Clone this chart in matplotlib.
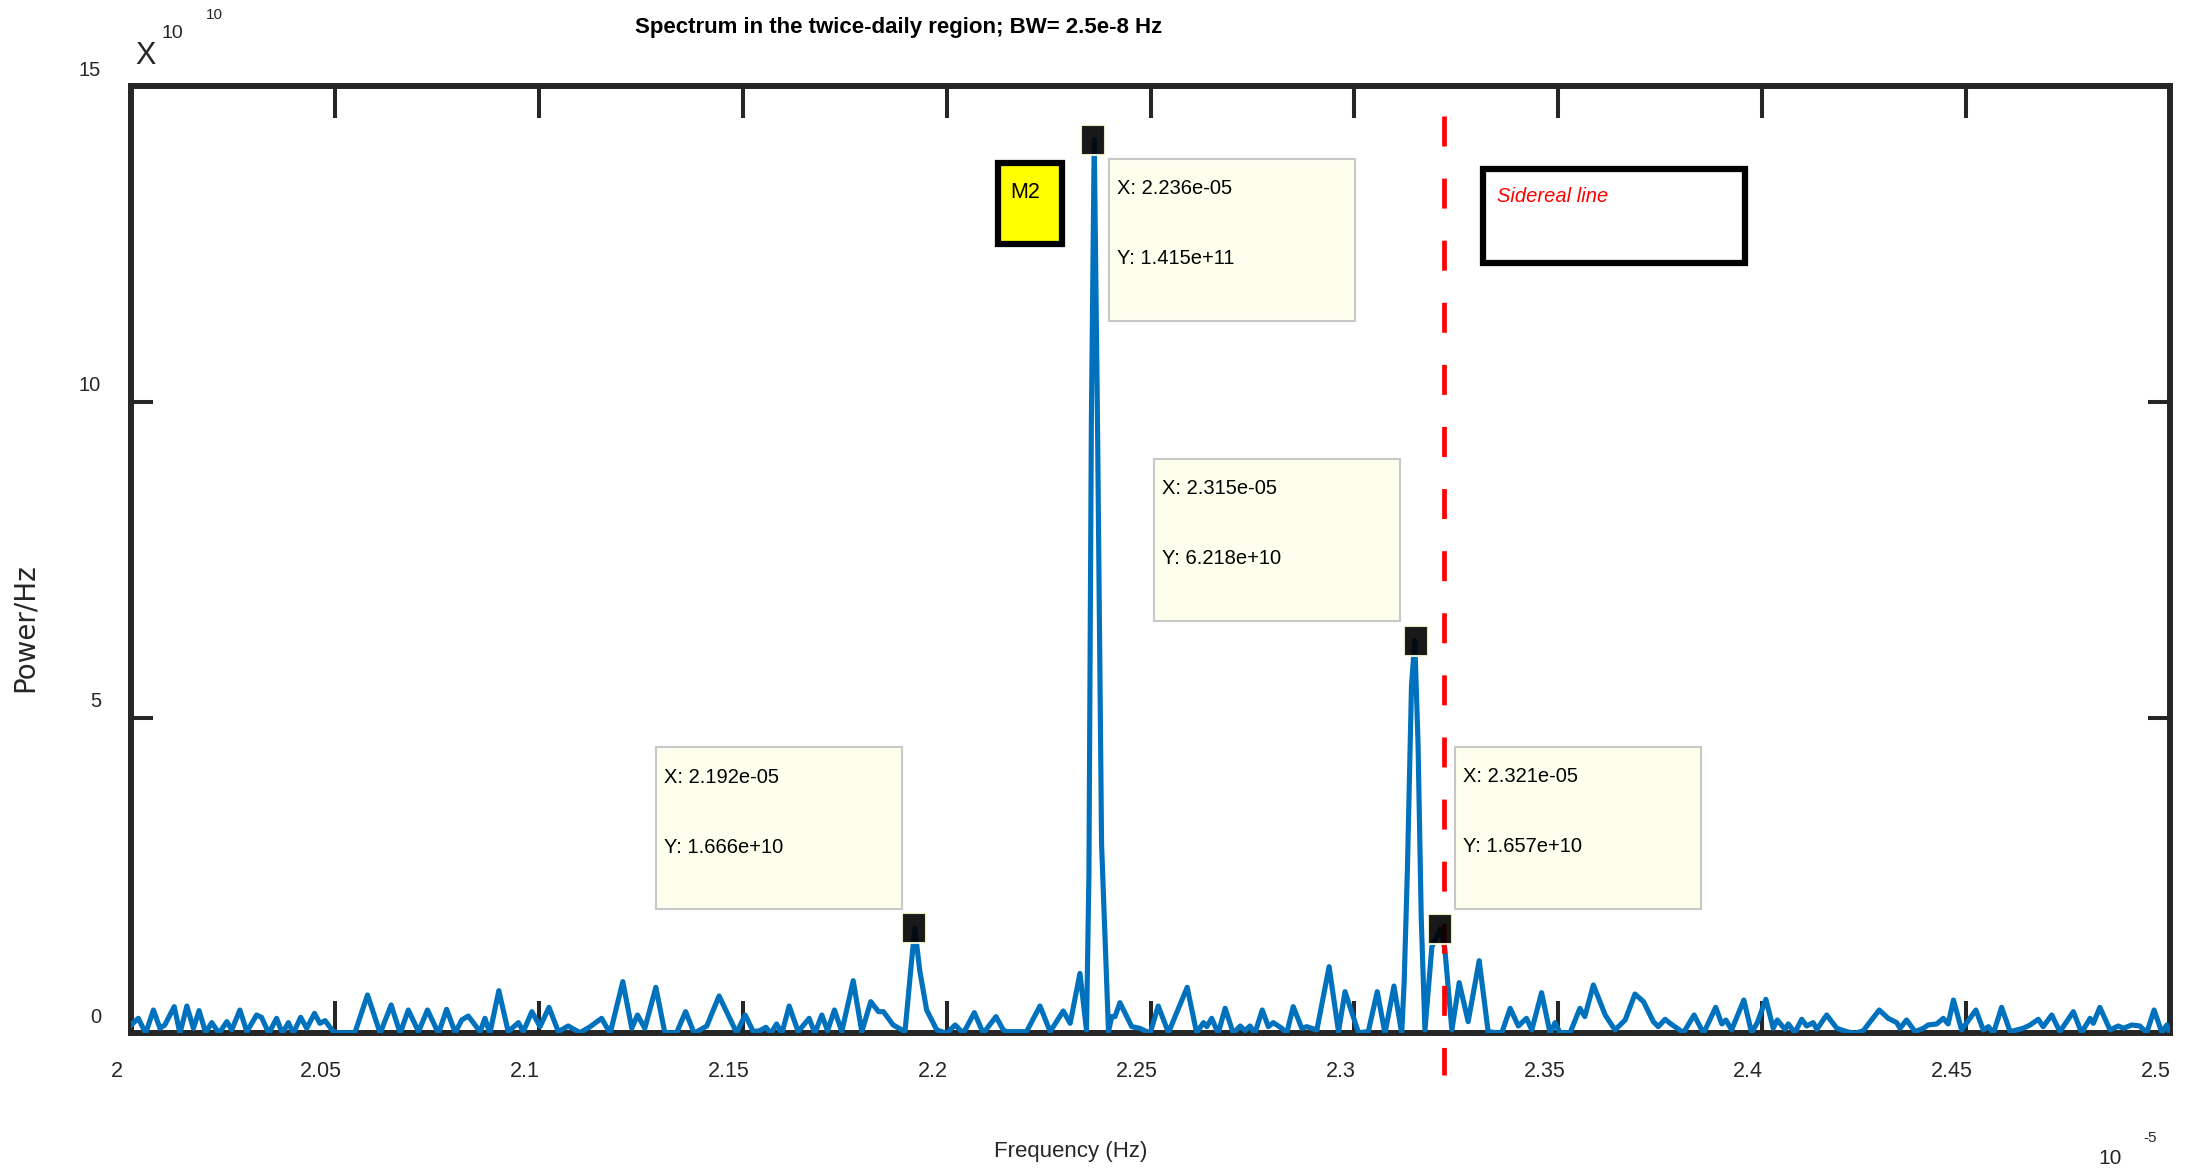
import matplotlib
matplotlib.use("Agg")
import matplotlib.pyplot as plt
from matplotlib.path import Path
from matplotlib.patches import Rectangle
from matplotlib.transforms import Affine2D, ScaledTranslation

plt.rcParams['font.family'] = ['Liberation Sans', 'DejaVu Sans']

# ---- data (frequency in 1e-5 Hz, power in 1e10)
freq_e5 = [
    2.0000, 2.0018, 2.0036, 2.0055, 2.0071, 2.0083, 2.0106, 2.0120, 2.0137, 2.0153,
    2.0167, 2.0183, 2.0198, 2.0216, 2.0235, 2.0247, 2.0267, 2.0284, 2.0308, 2.0320,
    2.0338, 2.0357, 2.0371, 2.0386, 2.0398, 2.0416, 2.0431, 2.0450, 2.0463, 2.0476,
    2.0496, 2.0508, 2.0549, 2.0580, 2.0611, 2.0638, 2.0660, 2.0680, 2.0705, 2.0727,
    2.0754, 2.0774, 2.0795, 2.0811, 2.0827, 2.0856, 2.0868, 2.0880, 2.0902, 2.0925,
    2.0950, 2.0962, 2.0983, 2.1003, 2.1025, 2.1048, 2.1072, 2.1101, 2.1126, 2.1154,
    2.1175, 2.1206, 2.1228, 2.1242, 2.1260, 2.1287, 2.1309, 2.1338, 2.1360, 2.1381,
    2.1412, 2.1442, 2.1485, 2.1506, 2.1526, 2.1542, 2.1557, 2.1569, 2.1583, 2.1596,
    2.1614, 2.1636, 2.1663, 2.1677, 2.1694, 2.1708, 2.1725, 2.1743, 2.1771, 2.1792,
    2.1814, 2.1833, 2.1845, 2.1869, 2.1898, 2.1912, 2.1922, 2.1934, 2.1951, 2.1976,
    2.2000, 2.2021, 2.2041, 2.2068, 2.2090, 2.2121, 2.2139, 2.2147, 2.2196, 2.2229,
    2.2254, 2.2286, 2.2303, 2.2327, 2.2343, 2.2349, 2.2355, 2.2362, 2.2370, 2.2380,
    2.2397, 2.2405, 2.2413, 2.2425, 2.2454, 2.2474, 2.2499, 2.2519, 2.2544, 2.2590,
    2.2613, 2.2630, 2.2638, 2.2650, 2.2666, 2.2683, 2.2703, 2.2720, 2.2732, 2.2744,
    2.2756, 2.2774, 2.2789, 2.2801, 2.2822, 2.2834, 2.2850, 2.2871, 2.2883, 2.2908,
    2.2938, 2.2961, 2.2977, 2.3010, 2.3034, 2.3056, 2.3075, 2.3097, 2.3116, 2.3122,
    2.3130, 2.3140, 2.3148, 2.3156, 2.3164, 2.3173, 2.3190, 2.3212, 2.3222, 2.3239,
    2.3257, 2.3279, 2.3306, 2.3328, 2.3361, 2.3382, 2.3402, 2.3422, 2.3435, 2.3459,
    2.3480, 2.3492, 2.3504, 2.3529, 2.3553, 2.3565, 2.3586, 2.3615, 2.3639, 2.3664,
    2.3688, 2.3709, 2.3733, 2.3745, 2.3762, 2.3774, 2.3807, 2.3833, 2.3856, 2.3886,
    2.3901, 2.3911, 2.3925, 2.3955, 2.3974, 2.3988, 2.4009, 2.4027, 2.4037, 2.4056,
    2.4064, 2.4080, 2.4097, 2.4109, 2.4125, 2.4134, 2.4158, 2.4183, 2.4207, 2.4228,
    2.4248, 2.4287, 2.4309, 2.4330, 2.4338, 2.4354, 2.4375, 2.4395, 2.4407, 2.4428,
    2.4444, 2.4456, 2.4469, 2.4489, 2.4524, 2.4542, 2.4555, 2.4567, 2.4587, 2.4608,
    2.4640, 2.4657, 2.4677, 2.4689, 2.4710, 2.4730, 2.4763, 2.4783, 2.4804, 2.4812,
    2.4828, 2.4853, 2.4873, 2.4886, 2.4906, 2.4926, 2.4943, 2.4961, 2.4980, 2.4992,
    2.5000,
]
power_e10 = [
    0.130, 0.237, 0.000, 0.369, 0.079, 0.132, 0.422, 0.000, 0.432, 0.079,
    0.359, 0.010, 0.169, 0.000, 0.185, 0.053, 0.369, 0.026, 0.290, 0.253,
    0.000, 0.237, 0.000, 0.169, 0.000, 0.253, 0.079, 0.316, 0.158, 0.200,
    0.026, 0.010, 0.010, 0.607, 0.000, 0.448, 0.000, 0.369, 0.026, 0.369,
    0.000, 0.380, 0.010, 0.211, 0.274, 0.026, 0.237, 0.000, 0.675, 0.026,
    0.169, 0.026, 0.343, 0.105, 0.411, 0.026, 0.116, 0.010, 0.105, 0.237,
    0.000, 0.818, 0.079, 0.290, 0.079, 0.728, 0.010, 0.010, 0.343, 0.000,
    0.116, 0.591, 0.010, 0.290, 0.026, 0.042, 0.095, 0.000, 0.148, 0.000,
    0.432, 0.026, 0.237, 0.000, 0.290, 0.042, 0.369, 0.026, 0.833, 0.026,
    0.501, 0.343, 0.343, 0.132, 0.026, 1.000, 1.666, 1.000, 0.369, 0.053,
    0.000, 0.132, 0.000, 0.327, 0.000, 0.264, 0.053, 0.026, 0.026, 0.432,
    0.026, 0.353, 0.158, 0.949, 0.053, 2.500, 9.700, 14.150, 9.700, 3.000,
    0.026, 0.264, 0.264, 0.485, 0.105, 0.079, 0.000, 0.432, 0.010, 0.728,
    0.010, 0.169, 0.105, 0.237, 0.000, 0.396, 0.000, 0.116, 0.042, 0.116,
    0.000, 0.369, 0.105, 0.169, 0.079, 0.000, 0.422, 0.079, 0.105, 0.053,
    1.055, 0.026, 0.659, 0.010, 0.026, 0.659, 0.000, 0.749, 0.000, 0.800,
    2.600, 5.500, 6.218, 4.600, 1.800, 0.053, 1.371, 1.657, 1.319, 0.053,
    0.802, 0.185, 1.150, 0.026, 0.000, 0.396, 0.116, 0.237, 0.053, 0.643,
    0.000, 0.169, 0.010, 0.010, 0.396, 0.264, 0.765, 0.290, 0.053, 0.211,
    0.622, 0.501, 0.185, 0.105, 0.222, 0.158, 0.010, 0.290, 0.000, 0.411,
    0.148, 0.211, 0.053, 0.527, 0.010, 0.169, 0.538, 0.079, 0.211, 0.063,
    0.148, 0.010, 0.222, 0.116, 0.169, 0.063, 0.290, 0.079, 0.026, 0.000,
    0.042, 0.369, 0.237, 0.169, 0.079, 0.211, 0.026, 0.079, 0.132, 0.148,
    0.237, 0.148, 0.527, 0.053, 0.369, 0.053, 0.105, 0.000, 0.411, 0.026,
    0.079, 0.132, 0.222, 0.105, 0.290, 0.026, 0.343, 0.010, 0.237, 0.158,
    0.411, 0.053, 0.116, 0.079, 0.132, 0.116, 0.010, 0.369, 0.010, 0.132,
    0.010,
]

# data tips
tip_f = [2.236, 2.315, 2.192, 2.321]
tip_p = [14.15, 6.218, 1.666, 1.657]
sidereal_f = 2.322

xticks = [2.0, 2.05, 2.1, 2.15, 2.2, 2.25, 2.3, 2.35, 2.4, 2.45, 2.5]
xtick_labels = ["2", "2.05", "2.1", "2.15", "2.2", "2.25", "2.3", "2.35", "2.4", "2.45", "2.5"]
yticks = [0, 5, 10, 15]
ytick_labels = ["0", "5", "10", "15"]

# ---- layout (pixels of the 2203x1169 picture)
W, H, DPI = 2203, 1169, 100
AXC = "#262626"
BLUE = "#0072BD"

fig = plt.figure(figsize=(W / DPI, H / DPI), dpi=DPI)
ax = fig.add_axes([131 / W, 1 - 1033.3 / H, 2039 / W, 947.3 / H])

ax.plot(freq_e5, power_e10, color=BLUE, lw=3.7, zorder=3, solid_joinstyle="round")
ax.plot([sidereal_f, sidereal_f], [14.53, -0.66], color="red", lw=3.4,
        ls=(0, (6.35, 6.8)), clip_on=False, zorder=4)

ax.set_xlim(2.0, 2.5)
ax.set_ylim(0, 15)
ax.set_xticks(xticks)
ax.set_yticks(yticks)
ax.set_xticklabels([])
ax.set_yticklabels([])
ax.tick_params(axis="x", direction="in", length=23, width=2.9, color=AXC,
               top=True, bottom=True)
ax.tick_params(axis="y", direction="in", length=16, width=2.9, color=AXC,
               left=True, right=True)
for s in ax.spines.values():
    s.set_linewidth(4.3)
    s.set_color(AXC)

# tick labels, drawn a bit off their ticks like in the export
for f, lab in zip(xticks, xtick_labels):
    ax.text(f, 0, lab, transform=ax.get_xaxis_transform() + Affine2D().translate(-14, -38),
            ha="center", va="center", fontsize=15.5, color=AXC)
for p, lab in zip(yticks, ytick_labels):
    ax.text(0, p, lab, transform=ax.get_yaxis_transform() + Affine2D().translate(-30, 16),
            ha="right", va="center", fontsize=14.5, color=AXC)

# data tip markers (tall black squares)
sq = Path([(-0.4, -0.5), (0.4, -0.5), (0.4, 0.5), (-0.4, 0.5), (-0.4, -0.5)],
          [Path.MOVETO, Path.LINETO, Path.LINETO, Path.LINETO, Path.CLOSEPOLY])
ax.plot(tip_f, tip_p, ls="none", marker=sq, ms=21, mfc="black", mec="#FFFFE0",
        mew=1.5, alpha=0.9, zorder=5, clip_on=False)

# data tip boxes: offsets (px) of the box lower-left corner from the marker
tip_off = [(16, -181), (-262, 20), (-258, 19), (15, 20)]
bw, bh = 246, 162
for f, p, (ox, oy) in zip(tip_f, tip_p, tip_off):
    anchor = ScaledTranslation(f, p, ax.transData)
    ax.add_patch(Rectangle((0, 0), 1, 1, transform=Affine2D().scale(bw, bh).translate(ox, oy) + anchor,
                           fc="#FFFFEE", ec="#C8C8C8", lw=1.5, zorder=6, clip_on=False))
    ax.text(0, 0, f"X: {f * 1e-5:.3e}", transform=Affine2D().translate(ox + 8, oy + bh - 30) + anchor,
            ha="left", va="center", fontsize=14.5, color="black", zorder=7)
    ax.text(0, 0, f"Y: {p * 1e10:.3e}", transform=Affine2D().translate(ox + 8, oy + bh - 100) + anchor,
            ha="left", va="center", fontsize=14.5, color="black", zorder=7)


def fbox(x0, y0, x1, y1, **kw):
    """rectangle from picture pixel corners (top-left origin)"""
    fig.add_artist(Rectangle((x0 / W, 1 - y1 / H), (x1 - x0) / W, (y1 - y0) / H,
                             transform=fig.transFigure, **kw))


# M2 label and sidereal legend box
fbox(998, 163, 1062, 244, fc="#FFFF00", ec="black", lw=4.5)
fig.text(1025 / W, 1 - 193 / H, "M2", ha="center", va="center", fontsize=15.5)
fbox(1483, 169, 1745, 263, fc="white", ec="black", lw=4.5)
fig.text(1497 / W, 1 - 196 / H, "Sidereal line", ha="left", va="center", fontsize=14.5,
         style="italic", color="red")

# titles, labels, exponents
fig.text(899 / W, 1 - 28 / H, "Spectrum in the twice-daily region; BW= 2.5e-8 Hz",
         ha="center", va="center", fontsize=16, fontweight="bold", color="black")
fig.text(1071 / W, 1 - 1151 / H, "Frequency (Hz)", ha="center", va="center",
         fontsize=16, color=AXC)
fig.text(25 / W, 1 - 628 / H, "Power/Hz", ha="center", va="center", rotation=90,
         fontsize=20, color=AXC, family="DejaVu Sans")
fig.text(146 / W, 1 - 56 / H, "X", ha="center", va="center", fontsize=22, color=AXC)
fig.text(172 / W, 1 - 33 / H, "10", ha="center", va="center", fontsize=14, color=AXC)
fig.text(214 / W, 1 - 15 / H, "10", ha="center", va="center", fontsize=11, color=AXC)
fig.text(2110 / W, 1 - 1158 / H, "10", ha="center", va="center", fontsize=15, color=AXC)
fig.text(2150 / W, 1 - 1138 / H, "-5", ha="center", va="center", fontsize=11, color=AXC)

fig.savefig("out.png", dpi=DPI, facecolor="white")
